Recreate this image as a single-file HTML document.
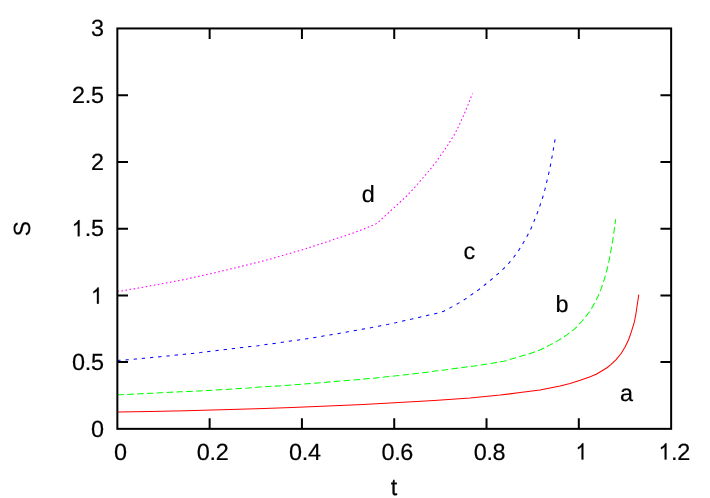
<!DOCTYPE html>
<html><head><meta charset="utf-8"><title>plot</title>
<style>
html,body{margin:0;padding:0;background:#fff;}
svg{display:block;will-change:transform;}
text{text-rendering:geometricPrecision;font-family:"Liberation Sans",sans-serif;font-size:235.0px;fill:#000;stroke:#000;stroke-width:2.0px;letter-spacing:-3.5px;}
</style></head>
<body>
<svg width="710" height="498" viewBox="0 0 710 498">
<rect x="0" y="0" width="710" height="498" fill="#fff"/>
<g fill="none" stroke-width="1.04" stroke-linejoin="round">
<polyline stroke="#ff0000" points="117.3,412.1 150.0,411.4 186.0,410.8 221.1,409.7 257.0,408.7 292.1,407.4 328.0,406.0 363.1,404.4 399.0,402.6 434.1,400.4 470.0,397.9 500.1,395.1 520.2,392.6 540.0,390.0 550.0,388.1 560.1,386.0 570.1,383.5 580.2,380.3 590.2,376.7 596.2,374.3 602.5,370.5 607.3,367.5 610.6,364.9 616.1,359.6 621.1,353.5 625.1,347.0 628.7,339.5 631.4,331.6 633.4,325.2 634.4,321.9 635.8,314.5 637.3,304.5 638.8,294.6"/>
<polyline stroke="#00ff00" stroke-dasharray="6.57 3.29" points="117.3,394.8 121.0,394.7 130.5,394.3 140.4,393.8 150.3,393.3 160.3,392.8 170.0,392.3 179.9,391.8 189.5,391.4 199.6,390.9 209.3,390.4 219.1,389.8 229.0,389.2 238.7,388.6 248.5,388.0 259.0,387.1 268.5,386.5 278.3,385.9 288.1,385.3 297.9,384.6 307.7,383.8 317.4,383.1 328.0,382.1 337.5,381.3 347.1,380.5 356.8,379.7 366.7,378.8 376.5,377.9 386.2,376.8 396.1,375.8 405.8,374.7 415.6,373.6 425.4,372.4 435.1,371.1 445.0,369.9 454.7,368.6 464.5,367.2 474.5,365.9 484.1,364.4 493.8,362.9 503.4,361.3 506.1,360.7 513.0,358.6 522.4,355.8 531.7,353.0 541.0,349.5 550.1,344.9 558.8,340.1 566.9,334.9 574.7,328.8 581.7,321.5 587.9,313.8 589.7,311.3 593.1,305.9 597.7,297.1 601.4,288.1 604.5,278.6 607.2,269.0 609.1,260.5 611.1,249.6 612.8,239.9 614.2,230.1 615.4,221.5 615.6,219.2"/>
<polyline stroke="#0000ff" stroke-dasharray="3.29 4.93" points="117.3,360.6 119.5,360.3 127.2,359.8 135.4,359.1 143.6,358.3 151.7,357.5 160.1,356.7 168.3,355.9 176.4,355.0 184.3,354.3 192.8,353.4 200.9,352.5 208.9,351.4 217.1,350.5 225.4,349.6 233.5,348.6 241.7,347.6 249.9,346.6 258.0,345.7 266.0,344.5 274.1,343.4 282.3,342.3 290.4,341.1 298.7,339.9 306.8,338.7 314.9,337.5 323.1,336.1 331.0,334.7 339.0,333.4 347.1,331.9 355.3,330.5 363.4,329.1 371.6,327.6 379.7,325.9 387.8,324.4 395.8,322.7 403.8,320.8 411.8,319.1 419.8,317.2 427.9,315.3 435.9,313.5 440.5,312.4 443.7,311.2 451.0,307.4 458.2,303.4 465.2,299.1 471.9,294.4 478.5,289.9 485.3,284.5 491.5,279.4 497.6,274.2 503.6,268.6 509.3,262.6 514.4,256.3 519.2,249.6 523.5,242.5 527.6,235.2 531.3,227.9 534.4,220.3 537.5,212.6 540.2,204.8 542.8,197.0 545.0,189.2 546.9,181.2 548.8,173.2 550.5,165.1 552.0,157.1 553.4,149.1 554.8,141.0 555.2,139.0"/>
<polyline stroke="#ff00ff" stroke-dasharray="1.64 2.47" points="117.3,291.6 138.3,288.1 150.5,285.8 162.7,283.6 175.0,281.3 186.8,279.0 198.9,276.2 210.9,273.7 222.9,270.8 235.0,267.9 247.0,264.9 258.8,262.0 270.6,258.9 282.6,255.5 294.3,252.1 306.2,248.6 318.0,244.8 326.1,242.1 340.0,237.5 352.5,233.2 360.0,230.4 368.1,227.3 372.1,225.6 375.8,223.9 379.1,221.3 382.1,218.6 388.2,213.1 394.2,207.6 400.2,202.0 406.7,196.0 409.1,193.4 414.7,187.4 420.1,181.1 425.6,174.8 430.8,168.6 435.9,162.1 440.7,155.3 445.4,148.5 447.7,145.3 451.0,140.0 454.4,134.4 456.1,131.2 457.9,127.7 459.7,124.0 461.4,120.1 463.2,116.3 464.8,112.5 466.4,108.8 468.0,104.9 469.5,101.1 471.0,97.2 472.5,93.5"/>
</g>
<g fill="none" stroke="#000" stroke-width="2">
<path d="M209.64,428.85V418.20000000000005M209.64,28.45V39.1M301.93,428.85V418.20000000000005M301.93,28.45V39.1M394.23,428.85V418.20000000000005M394.23,28.45V39.1M486.52,428.85V418.20000000000005M486.52,28.45V39.1M578.81,428.85V418.20000000000005M578.81,28.45V39.1M117.35,362.12H128.0M671.1,362.12H660.45M117.35,295.38H128.0M671.1,295.38H660.45M117.35,228.65H128.0M671.1,228.65H660.45M117.35,161.92H128.0M671.1,161.92H660.45M117.35,95.18H128.0M671.1,95.18H660.45"/>
<rect x="117.35" y="28.45" width="553.8" height="400.4"/>
</g>
<g transform="scale(0.1)">
<text x="1203.5" y="4595.0" text-anchor="middle">0</text>
<text x="2126.4" y="4595.0" text-anchor="middle">0.2</text>
<text x="3049.3" y="4595.0" text-anchor="middle">0.4</text>
<text x="3972.2" y="4595.0" text-anchor="middle">0.6</text>
<text x="4895.2" y="4595.0" text-anchor="middle">0.8</text>
<text x="6710.0" y="4595.0" text-anchor="start">.2</text>
<text x="1036.0" y="4365.5" text-anchor="end">0</text>
<text x="1036.0" y="3698.2" text-anchor="end">0.5</text>
<text x="847.0" y="2363.5" text-anchor="start">.5</text>
<text x="1036.0" y="1696.2" text-anchor="end">2</text>
<text x="1036.0" y="1028.8" text-anchor="end">2.5</text>
<text x="1036.0" y="361.5" text-anchor="end">3</text>
<text x="3939.0" y="4948.5" text-anchor="middle">t</text>
<text transform="translate(298.0,2288.5) rotate(-90) scale(0.965,1)" text-anchor="middle">S</text>
<text x="3617.0" y="2020.0" text-anchor="start">d</text>
<text x="4634.0" y="2586.0" text-anchor="start">c</text>
<text x="5555.0" y="3119.0" text-anchor="start">b</text>
<text x="6201.0" y="4013.0" text-anchor="start">a</text>
</g>
<g fill="#000" stroke="#000" stroke-width="21.8" stroke-linejoin="round">
<path transform="translate(575.60,459.50) scale(0.010212,-0.011039)" d="M763 0H583V1147Q518 1085 412.5 1023T223 930V1104Q374 1175 487 1276T647 1472H763V0Z"/>
<path transform="translate(658.70,459.50) scale(0.010212,-0.011039)" d="M763 0H583V1147Q518 1085 412.5 1023T223 930V1104Q374 1175 487 1276T647 1472H763V0Z"/>
<path transform="translate(91.00,303.63) scale(0.010212,-0.011039)" d="M763 0H583V1147Q518 1085 412.5 1023T223 930V1104Q374 1175 487 1276T647 1472H763V0Z"/>
<path transform="translate(71.80,236.35) scale(0.010212,-0.011039)" d="M763 0H583V1147Q518 1085 412.5 1023T223 930V1104Q374 1175 487 1276T647 1472H763V0Z"/>
</g>
</svg>
</body></html>
